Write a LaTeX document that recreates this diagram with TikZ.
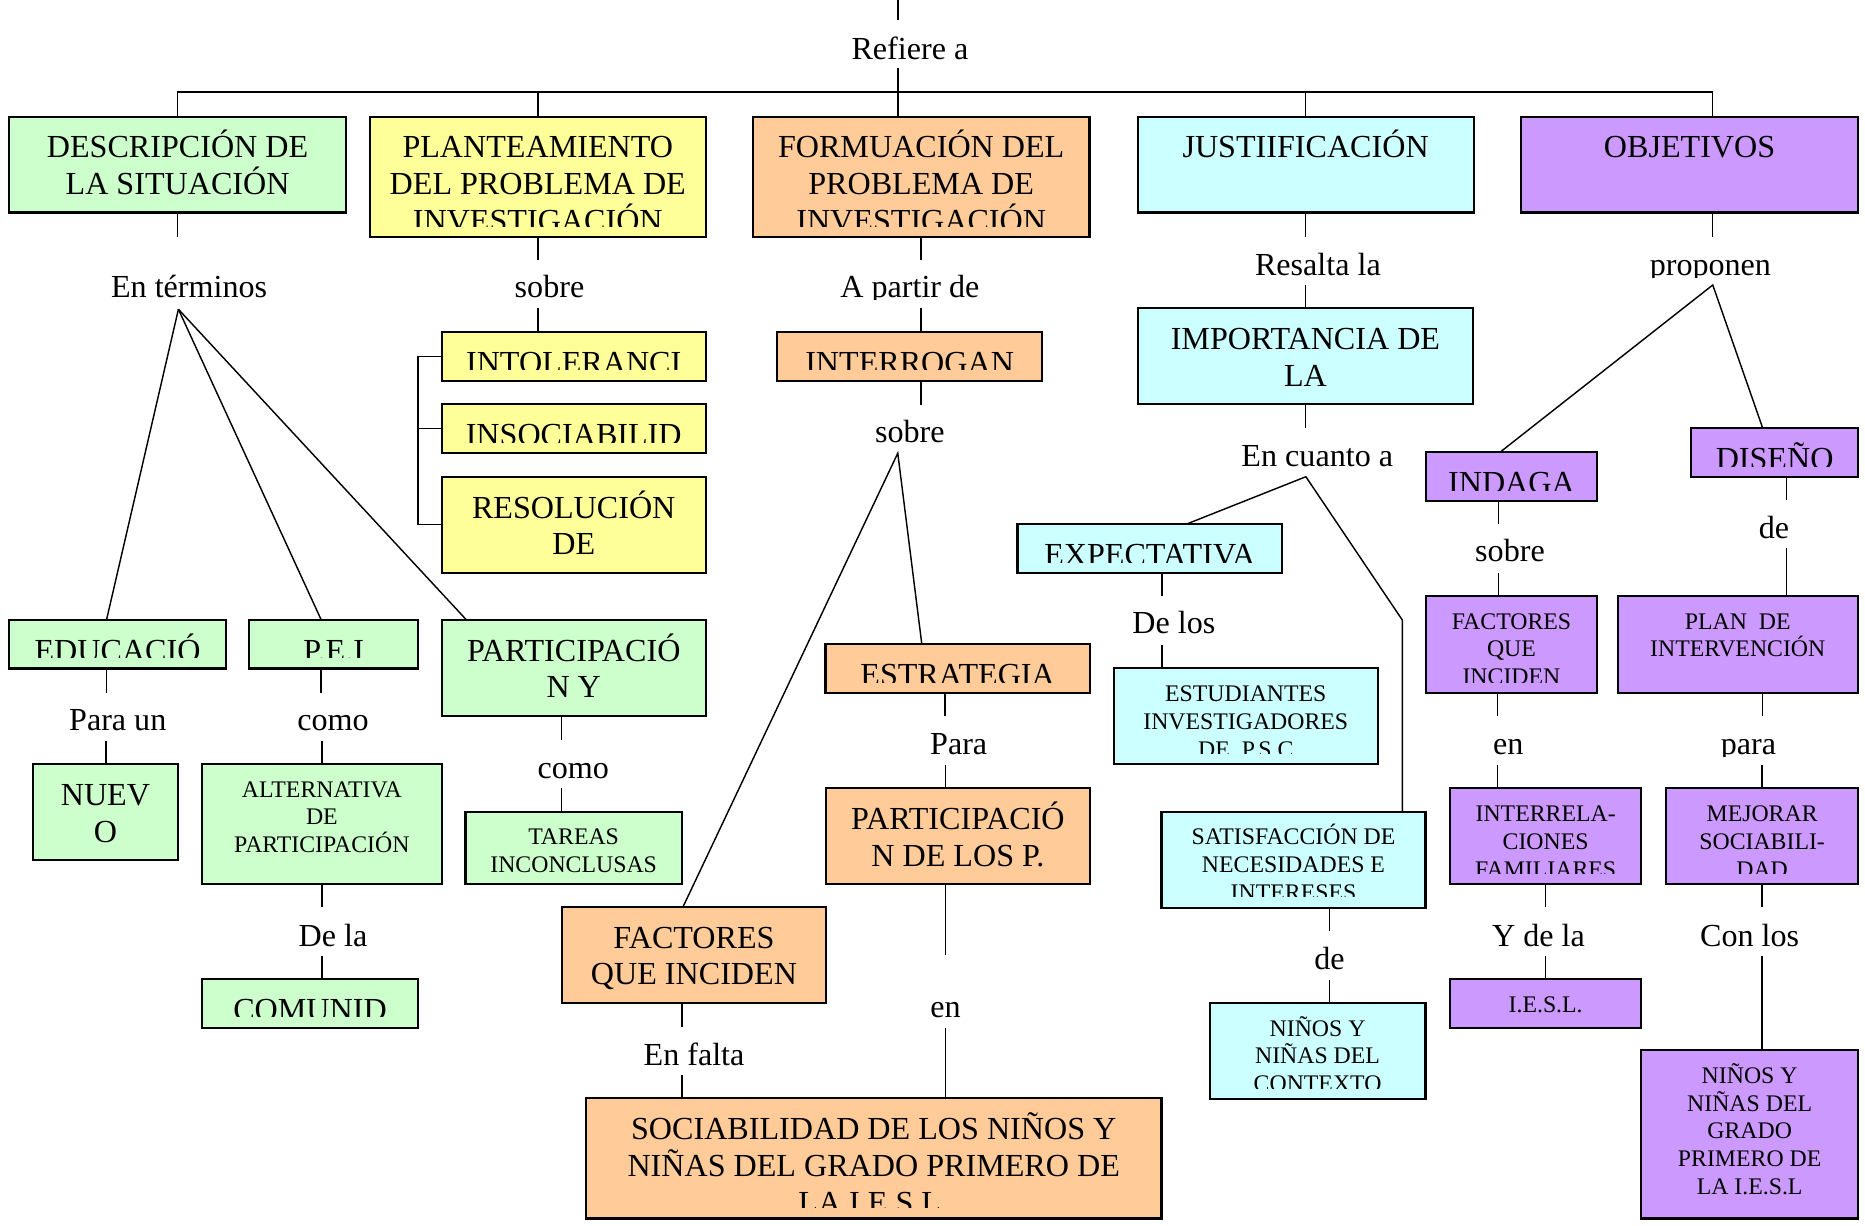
\documentclass[tikz,border=0pt]{standalone}
\usepackage{fontspec}
\setmainfont{Liberation Serif}
\usetikzlibrary{fit,calc}
\definecolor{cgreen}{RGB}{204,255,204}
\definecolor{cyellow}{RGB}{255,255,153}
\definecolor{corange}{RGB}{255,204,153}
\definecolor{ccyan}{RGB}{204,255,255}
\definecolor{cpurple}{RGB}{204,153,255}
\tikzset{
  boxst/.style={draw=black, line width=0.9pt, inner sep=0pt, outer sep=0pt, rectangle},
  bigtxt/.style={font=\fontsize{13.5}{15.5}\selectfont, align=center, inner sep=0pt, anchor=north, yshift=-4.1pt},
  smalltxt/.style={font=\fontsize{10}{11.65}\selectfont, align=center, inner sep=0pt, anchor=north, yshift=-4.1pt},
  lbl/.style={font=\fontsize{13.5}{15.5}\selectfont, inner sep=0pt, anchor=base},
  conn/.style={line width=0.6pt, black}
}
\newcommand\cmbox[8]{%
  \node[boxst, fill=#6, fit={(#2,#3) (#4,#5)}] (#1) {};
  \begin{scope}
    \clip (#2,#3) rectangle (#4,{#5-9});
    \node[#7] at ({(#2+#4)/2},#3) {\rule{0pt}{0.97em}#8};
  \end{scope}}
\begin{document}
\begin{tikzpicture}[x=0.5pt,y=-0.5pt]
\fill[white] (0,0) rectangle (1568,1030);
\useasboundingbox (0,0) rectangle (1568,1030);

% ---------- boxes ----------
\cmbox{desc}{7.6}{98}{291}{178.6}{cgreen}{bigtxt}{DESCRIPCIÓN DE\\LA SITUACIÓN}
\cmbox{plant}{310.8}{98}{593.5}{199}{cyellow}{bigtxt}{PLANTEAMIENTO\\DEL PROBLEMA DE\\INVESTIGACIÓN}
\cmbox{form}{633}{98}{916}{199}{corange}{bigtxt}{FORMUACIÓN DEL\\PROBLEMA DE\\INVESTIGACIÓN}
\cmbox{just}{956.4}{98}{1239}{178.6}{ccyan}{bigtxt}{JUSTIIFICACIÓN}
\cmbox{obj}{1279}{98}{1562}{178.6}{cpurple}{bigtxt}{OBJETIVOS}

\cmbox{intol}{371.4}{279.4}{593.3}{320}{cyellow}{bigtxt}{INTOLERANCI}
\cmbox{insoc}{371.4}{340}{593.3}{380.6}{cyellow}{bigtxt}{INSOCIABILID}
\cmbox{resol}{371.4}{400.8}{593.3}{481.5}{cyellow}{bigtxt}{RESOLUCIÓN\\DE}

\cmbox{educ}{7.7}{521}{190}{562}{cgreen}{bigtxt}{EDUCACIÓ}
\cmbox{pei}{209.6}{521}{351.4}{562}{cgreen}{bigtxt}{P.E.I}
\cmbox{partic}{371.4}{521}{593.3}{602}{cgreen}{bigtxt}{PARTICIPACIÓ\\N Y}
\cmbox{nuevo}{28}{642.3}{149.3}{723}{cgreen}{bigtxt}{NUEV\\O}
\cmbox{altern}{169.7}{642.3}{371.5}{743}{cgreen}{smalltxt}{ALTERNATIVA\\DE\\PARTICIPACIÓN}
\cmbox{tareas}{391.4}{682.4}{573.2}{743}{cgreen}{smalltxt}{TAREAS\\INCONCLUSAS}
\cmbox{comun}{169.7}{823}{351.6}{864}{cgreen}{bigtxt}{COMUNID}

\cmbox{interr}{653.5}{279.4}{876}{320}{corange}{bigtxt}{INTERROGAN}
\cmbox{estrat}{694}{541.5}{916.2}{582.4}{corange}{bigtxt}{ESTRATEGIA}
\cmbox{partp}{694.5}{662.8}{916.3}{743}{corange}{bigtxt}{PARTICIPACIÓ\\N DE LOS P.}
\cmbox{factor}{472.4}{762.3}{694.5}{843.6}{corange}{bigtxt}{FACTORES\\QUE INCIDEN}
\cmbox{sociab}{492.7}{923.4}{976.5}{1024.4}{corange}{bigtxt}{SOCIABILIDAD DE LOS NIÑOS Y\\NIÑAS DEL GRADO PRIMERO DE\\LA I.E.S.L.}

\cmbox{import}{956.4}{259.2}{1238.7}{340}{ccyan}{bigtxt}{IMPORTANCIA DE\\LA}
\cmbox{expect}{855.4}{440.6}{1077.9}{481.5}{ccyan}{bigtxt}{EXPECTATIVA}
\cmbox{estud}{936.5}{561.9}{1158.3}{642.3}{ccyan}{smalltxt}{ESTUDIANTES\\INVESTIGADORES\\DE\ \ P.S.C}
\cmbox{satisf}{976.5}{682.4}{1198.5}{763.1}{ccyan}{smalltxt}{SATISFACCIÓN DE\\NECESIDADES E\\INTERESES}
\cmbox{ninctx}{1017}{843}{1198.5}{924}{ccyan}{smalltxt}{NIÑOS Y\\NIÑAS DEL\\CONTEXTO}

\cmbox{indaga}{1199}{380.3}{1342.5}{421}{cpurple}{bigtxt}{INDAGA}
\cmbox{diseno}{1422}{360}{1562}{400.8}{cpurple}{bigtxt}{DISEÑO}
\cmbox{factp}{1199}{501}{1342.5}{582.4}{cpurple}{smalltxt}{FACTORES\\QUE\\INCIDEN}
\cmbox{plan}{1360}{501}{1562}{582.4}{cpurple}{smalltxt}{PLAN\ \ DE\\INTERVENCIÓN}
\cmbox{interrel}{1219}{662.8}{1380}{743}{cpurple}{smalltxt}{INTERRELA-\\CIONES\\FAMILIARES}
\cmbox{mejorar}{1401}{662.8}{1562}{743}{cpurple}{smalltxt}{MEJORAR\\SOCIABILI-\\DAD}
\cmbox{iesl}{1219}{823}{1380}{864}{cpurple}{smalltxt}{I.E.S.L.}
\cmbox{ningr}{1380}{882.8}{1562}{1024.4}{cpurple}{smalltxt}{NIÑOS Y\\NIÑAS DEL\\GRADO\\PRIMERO DE\\LA I.E.S.L}

% ---------- labels ----------
\node[lbl] (l0) at (765,50) {Refiere a};
\node[lbl] (l1) at (159,250.3) {En términos};
\node[lbl] (l2) at (462,250.3) {sobre};
\begin{scope}
  \clip (690,200) rectangle (840,252);
  \node[lbl] (l3) at (765,250.3) {A partir de};
\end{scope}
\node[lbl] (l4) at (1108,231.2) {Resalta la};
\begin{scope}
  \clip (1360,190) rectangle (1520,233);
  \node[lbl] (l5) at (1438,231.2) {proponen};
\end{scope}
\node[lbl] (l6) at (765,372.2) {sobre};
\node[lbl] (l7) at (1107.5,391.8) {En cuanto a};
\node[lbl] (l8) at (99,614.4) {Para un};
\node[lbl] (l9) at (280,614.4) {como};
\node[lbl] (l10) at (482,654.4) {como};
\node[lbl] (l11) at (280,795.4) {De la};
\node[lbl] (l12) at (987,532.5) {De los};
\node[lbl] (l13) at (806,634) {Para};
\node[lbl] (l14) at (795,855.3) {en};
\node[lbl] (l15) at (583.5,895.4) {En falta};
\node[lbl] (l16) at (1117.8,815) {de};
\node[lbl] (l17) at (1269.5,472.2) {sobre};
\node[lbl] (l18) at (1491.5,452.6) {de};
\node[lbl] (l19) at (1268,634) {en};
\begin{scope}
  \clip (1430,600) rectangle (1510,636);
  \node[lbl] (l20) at (1470,634) {para};
\end{scope}
\node[lbl] (l21) at (1293.5,795.4) {Y de la};
\node[lbl] (l22) at (1471,795.4) {Con los};

% ---------- coordinates ----------
\coordinate (t0) at (755,0);
\coordinate (t1) at (755,17);
\coordinate (t2) at (755,57);
\coordinate (bus) at (755,77.5);
\coordinate (f1) at (150,260);
\coordinate (f2) at (754.8,381);
\coordinate (f3) at (1097.9,400.8);
\coordinate (bend) at (1179,521.3);
\coordinate (f4) at (1440,239.6);

\begin{scope}[conn]
% top
\draw (t0) -- (t1);
\draw (t2) -- ($(form.north west)+(122,0)$);
\draw (desc.north) |- (bus) -| ($(obj.north west)+(161,0)$);
\draw (plant.north) -- (plant.north |- bus);
\draw (just.north) -- (just.north |- bus);
% stubs below top boxes
\draw (desc.south) -- ++(0,20.4);
\draw (plant.south) -- ++(0,19.6);
\draw (form.south) -- ++(0,19.6);
\draw (just.south) -- ++(0,20.4);
\draw ($(obj.south west)+(161,0)$) -- ++(0,20.4);
% descripcion fan
\draw ($(educ.north west)+(81.9,0)$) -- (f1);
\draw ($(pei.north west)+(60.4,0)$) -- (f1);
\draw ($(partic.north west)+(20.6,0)$) -- (f1);
% planteamiento
\draw (intol.north -| plant.south) -- ++(0,-20.4);
\draw (intol.west) -- ++(-20,0) |- (resol.west);
\draw (insoc.west) -- ++(-20,0);
% formulacion
\draw (interr.north -| form.south) -- ++(0,-20.2);
\draw (interr.south -| form.south) -- ++(0,20.6);
\draw ($(factor.north west)+(101.9,0)$) -- (f2) -- ($(estrat.north west)+(81,0)$);
% justificacion
\draw (import.north) -- ++(0,-19.6);
\draw (import.south) -- ++(0,20);
\draw ($(expect.north west)+(142.2,0)$) -- (f3) -- (bend) -- (bend |- satisf.north);
% objetivos
\draw ($(indaga.north west)+(62,0)$) -- (f4) -- ($(diseno.north west)+(60,0)$);
% green lower
\draw ($(educ.south west)+(81.9,0)$) -- ++(0,20.4);
\draw ($(nuevo.north west)+(61.2,0)$) -- ++(0,-19.6);
\draw ($(pei.south west)+(60.4,0)$) -- ++(0,20.4);
\draw (altern.north) -- ++(0,-19.6);
\draw (altern.south) -- ++(0,19.8);
\draw (comun.north -| altern.south) -- ++(0,-19.2);
\draw ($(partic.south)+(-10.3,0)$) -- ++(0,20);
\draw ($(tareas.north)+(-10,0)$) -- ++(0,-19.6);
% orange lower
\draw ($(estrat.south west)+(100.5,0)$) -- ++(0,19.6);
\draw ($(partp.north west)+(100.5,0)$) -- ++(0,-19.8);
\path ($(partp.south west)+(100.5,0)$) coordinate (pp);
\draw (pp) -- ++(0,60);
\draw (pp |- sociab.north) -- ++(0,-58.8);
\draw ($(factor.south)+(-10,0)$) -- ++(0,19.6);
\draw ($(sociab.north west)+(80.8,0)$) -- ++(0,-19.6);
% cyan lower
\draw ($(expect.south west)+(121.6,0)$) -- ++(0,19.5);
\draw ($(estud.north west)+(40.5,0)$) -- ++(0,-19.6);
\draw ($(satisf.south west)+(141.3,0)$) -- ++(0,19.7);
\draw ($(ninctx.north west)+(100.8,0)$) -- ++(0,-19);
% purple lower
\draw ($(indaga.south west)+(61,0)$) -- ++(0,19.6);
\draw ($(factp.north west)+(61,0)$) -- ++(0,-19);
\draw ($(factp.south west)+(60,0)$) -- ++(0,19.6);
\draw ($(interrel.north west)+(40,0)$) -- ++(0,-19.8);
\draw (interrel.south) -- ++(0,19.8);
\draw (iesl.north) -- ++(0,-19.2);
\draw ($(diseno.south west)+(80,0)$) -- ++(0,19.6);
\draw ($(plan.north west)+(142,0)$) -- ++(0,-40);
\draw ($(plan.south west)+(122,0)$) -- ++(0,19.6);
\draw (mejorar.north) -- ++(0,-19.8);
\draw (mejorar.south) -- ++(0,19.8);
\draw (ningr.north -| mejorar.south) -- ++(0,-79);
\end{scope}
\end{tikzpicture}
\end{document}
